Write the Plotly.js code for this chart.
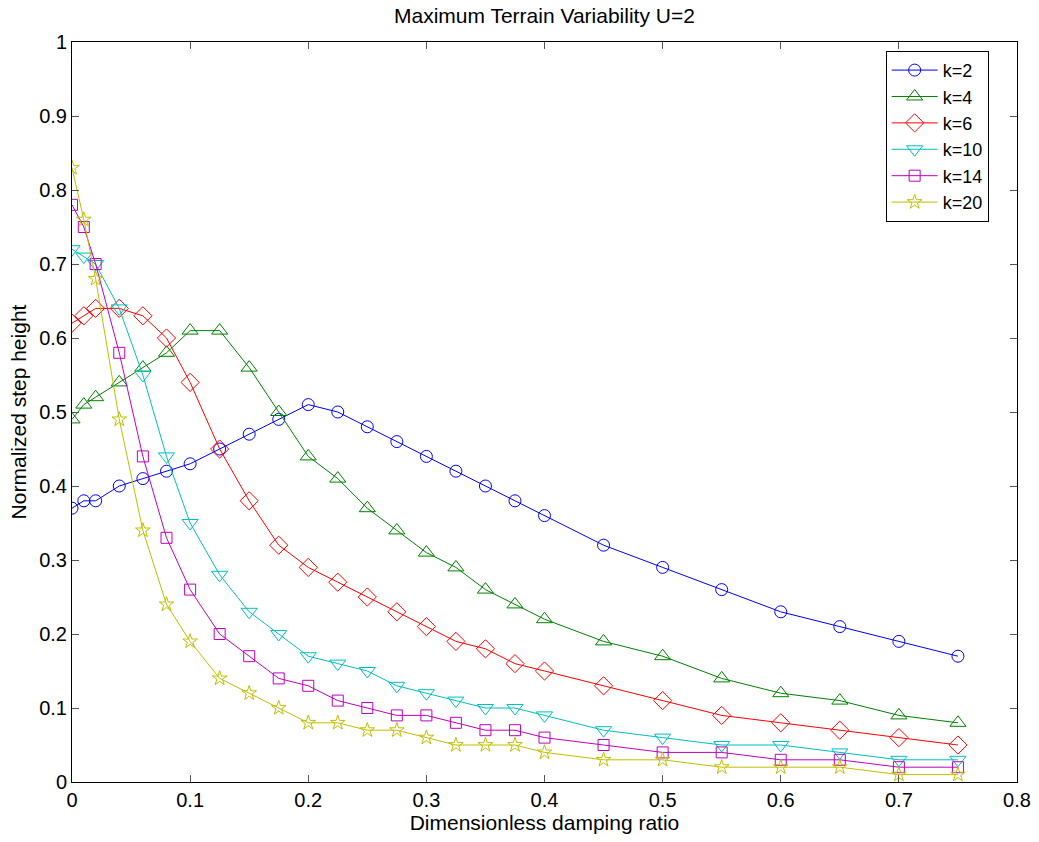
<!DOCTYPE html>
<html>
<head>
<meta charset="utf-8">
<script src="https://cdn.plot.ly/plotly-3.0.1.min.js"></script>
<style>html,body{margin:0;padding:0;background:#fff;}#chart{width:1039px;height:842px;}</style>
</head>
<body>
<div id="chart"></div>
<script>
const dampingRatio = [0, 0.01, 0.02, 0.04, 0.06, 0.08, 0.1, 0.125, 0.15, 0.175, 0.2, 0.225, 0.25, 0.275, 0.3, 0.325, 0.35, 0.375, 0.4, 0.45, 0.5, 0.55, 0.6, 0.65, 0.7, 0.75];

const k2  = [0.37, 0.38, 0.38, 0.40, 0.41, 0.42, 0.43, 0.45, 0.47, 0.49, 0.51, 0.50, 0.48, 0.46, 0.44, 0.42, 0.40, 0.38, 0.36, 0.32, 0.29, 0.26, 0.23, 0.21, 0.19, 0.17];
const k4  = [0.49, 0.51, 0.52, 0.54, 0.56, 0.58, 0.61, 0.61, 0.56, 0.50, 0.44, 0.41, 0.37, 0.34, 0.31, 0.29, 0.26, 0.24, 0.22, 0.19, 0.17, 0.14, 0.12, 0.11, 0.09, 0.08];
const k6  = [0.62, 0.63, 0.64, 0.64, 0.63, 0.60, 0.54, 0.45, 0.38, 0.32, 0.29, 0.27, 0.25, 0.23, 0.21, 0.19, 0.18, 0.16, 0.15, 0.13, 0.11, 0.09, 0.08, 0.07, 0.06, 0.05];
const k10 = [0.72, 0.71, 0.70, 0.64, 0.55, 0.44, 0.35, 0.28, 0.23, 0.20, 0.17, 0.16, 0.15, 0.13, 0.12, 0.11, 0.10, 0.10, 0.09, 0.07, 0.06, 0.05, 0.05, 0.04, 0.03, 0.03];
const k14 = [0.78, 0.75, 0.70, 0.58, 0.44, 0.33, 0.26, 0.20, 0.17, 0.14, 0.13, 0.11, 0.10, 0.09, 0.09, 0.08, 0.07, 0.07, 0.06, 0.05, 0.04, 0.04, 0.03, 0.03, 0.02, 0.02];
const k20 = [0.83, 0.76, 0.68, 0.49, 0.34, 0.24, 0.19, 0.14, 0.12, 0.10, 0.08, 0.08, 0.07, 0.07, 0.06, 0.05, 0.05, 0.05, 0.04, 0.03, 0.03, 0.02, 0.02, 0.02, 0.01, 0.01];

const seriesNames = ['k=2', 'k=4', 'k=6', 'k=10', 'k=14', 'k=20'];
const seriesValues = [k2, k4, k6, k10, k14, k20];
const seriesColors = ['#0000ff', '#008000', '#ff0000', '#00bfbf', '#bf00bf', '#bfbf00'];
const seriesSymbols = ['circle-open', 'triangle-up-open', 'diamond-open', 'triangle-down-open', 'square-open', 'star-open'];
const seriesSizes = [12, 14, 14, 14, 11, 11];

const xTicks = [0, 0.1, 0.2, 0.3, 0.4, 0.5, 0.6, 0.7, 0.8];
const yTicks = [0, 0.1, 0.2, 0.3, 0.4, 0.5, 0.6, 0.7, 0.8, 0.9, 1];

const traces = seriesNames.map((name, i) => ({
  x: dampingRatio,
  y: seriesValues[i],
  name: name,
  type: 'scatter',
  mode: 'lines+markers',
  line: {color: seriesColors[i], width: 1},
  marker: {symbol: seriesSymbols[i], size: seriesSizes[i], color: seriesColors[i], line: {color: seriesColors[i], width: 1}}
}));

const font = 'Liberation Sans, Arial, Helvetica, sans-serif';

const layout = {
  width: 1039,
  height: 842,
  margin: {l: 72, r: 22, t: 42, b: 60},
  paper_bgcolor: '#fff',
  plot_bgcolor: '#fff',
  font: {family: font, size: 20, color: '#000'},
  showlegend: true,
  title: {text: 'Maximum Terrain Variability U=2', font: {family: font, size: 21, color: '#000'}, x: 0.524, xanchor: 'center', y: 0.982, yanchor: 'middle'},
  xaxis: {
    range: [0, 0.8],
    tickvals: xTicks,
    ticktext: xTicks.map(String),
    showgrid: false, zeroline: false,
    showline: true, linecolor: '#000', linewidth: 1, mirror: 'ticks',
    ticks: 'inside', ticklen: 7, tickcolor: '#555', tickwidth: 1,
    tickfont: {family: font, size: 20, color: '#000'},
    title: {text: 'Dimensionless damping ratio', font: {family: font, size: 21, color: '#000'}, standoff: 2}
  },
  yaxis: {
    range: [0, 1],
    tickvals: yTicks,
    ticktext: yTicks.map(String),
    showgrid: false, zeroline: false,
    showline: true, linecolor: '#000', linewidth: 1, mirror: 'ticks',
    ticks: 'inside', ticklen: 7, tickcolor: '#555', tickwidth: 1,
    tickfont: {family: font, size: 20, color: '#000'},
    title: {text: 'Normalized step height', font: {family: font, size: 21, color: '#000'}, standoff: 6}
  },
  legend: {
    x: 0.861, y: 0.988, xanchor: 'left', yanchor: 'top',
    bordercolor: '#000', borderwidth: 1, bgcolor: '#fff',
    font: {family: font, size: 18, color: '#000'},
    itemwidth: 46, tracegroupgap: 0
  }
};

Plotly.newPlot('chart', traces, layout, {displayModeBar: false, staticPlot: true});
</script>
</body>
</html>
